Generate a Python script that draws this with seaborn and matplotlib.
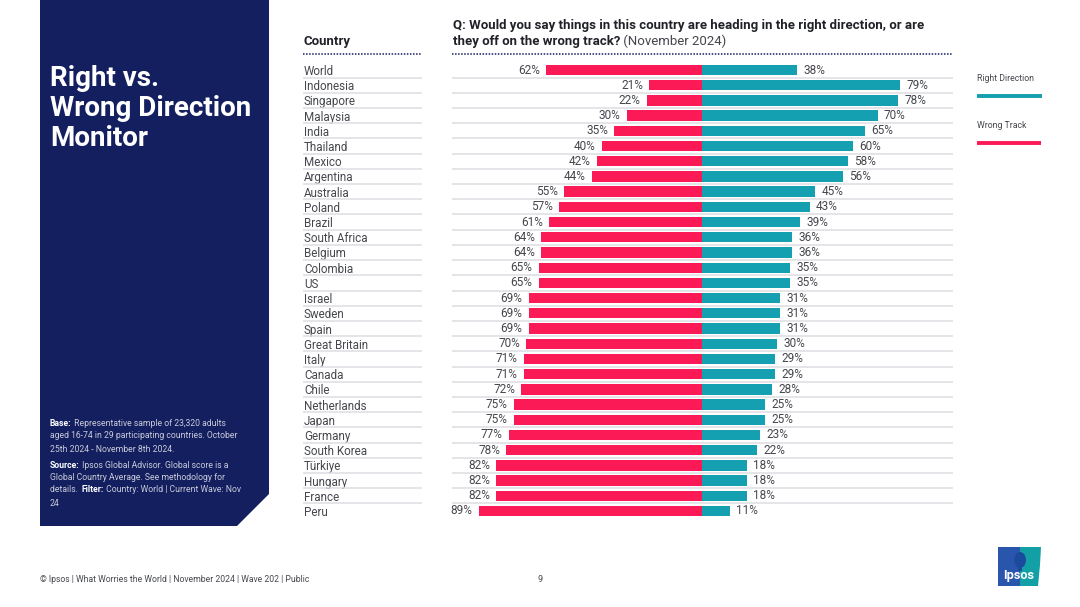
import matplotlib
matplotlib.use("Agg")
import matplotlib.pyplot as plt
import seaborn as sns
import pandas as pd
from matplotlib.patches import Polygon, Ellipse, Rectangle
from matplotlib.transforms import blended_transform_factory

countries = ["World","Indonesia","Singapore","Malaysia","India","Thailand","Mexico","Argentina","Australia","Poland",
             "Brazil","South Africa","Belgium","Colombia","US","Israel","Sweden","Spain","Great Britain","Italy",
             "Canada","Chile","Netherlands","Japan","Germany","South Korea","Türkiye","Hungary","France","Peru"]
wrong_track = [62,21,22,30,35,40,42,44,55,57,61,64,64,65,65,69,69,69,70,71,71,72,75,75,77,78,82,82,82,89]
right_direction = [38,79,78,70,65,60,58,56,45,43,39,36,36,35,35,31,31,31,30,29,29,28,25,25,23,22,18,18,18,11]

NAVY = "#141f60"; RED = "#fb1a55"; TEAL = "#14a0b0"; TXT = "#45474d"; SEP = "#dcdde3"
W, H = 1080, 607
sns.set_theme(style="white")
plt.rcParams["font.family"] = ["Roboto", "DejaVu Sans"]

fig = plt.figure(figsize=(W/100, H/100), dpi=100, facecolor="white")
bg = fig.add_axes([0, 0, 1, 1], zorder=0)
bg.set_xlim(0, W); bg.set_ylim(H, 0); bg.axis("off")

bg.add_patch(Polygon([(40,0),(269,0),(269,494),(237,526),(40,526)], closed=True, fc=NAVY, ec="none"))
for s, y in [("Right vs.", 79), ("Wrong Direction", 108), ("Monitor", 138)]:
    bg.text(50, y, s, color="white", fontsize=20, fontweight="bold", va="center", ha="left")

GREY = "#c9cbd8"
base = [(50,424,[("Base:",True),(" Representative sample of 23,320 adults",False)]),
        (50,436,[("aged 16-74 in 29 participating countries. October",False)]),
        (50,449,[("25th 2024 - November 8th 2024.",False)]),
        (50,465,[("Source:",True),(" Ipsos Global Advisor. Global score is a",False)]),
        (50,478,[("Global Country Average. See methodology for",False)]),
        (50,490,[("details. ",False),("Filter:",True),(" Country: World | Current Wave: Nov",False)]),
        (50,503,[("24",False)])]
r = fig.canvas.get_renderer()
def runs(x, y, parts, size, color, boldcolor=None):
    for s, b in parts:
        t = bg.text(x, y, s, fontsize=size, va="center", ha="left",
                    fontweight="bold" if b else "normal",
                    color=(boldcolor or color) if b else color)
        trail = len(s) - len(s.rstrip())
        x += t.get_window_extent(r).width + trail * size * 0.32
for x, y, parts in base:
    runs(x, y, parts, 6.2, GREY, "white")

bg.text(303, 41, "Country", fontsize=9.5, fontweight="bold", color="#202228", va="center", ha="left")
bg.text(453, 25, "Q: Would you say things in this country are heading in the right direction, or are",
        fontsize=9.55, fontweight="bold", color="#202228", va="center", ha="left")
runs(453, 41, [("they off on the wrong track?", True), (" (November 2024)", False)], 9.55, TXT, "#202228")

for a, b in [(303, 421), (452, 953)]:
    bg.plot([a, b], [53.5, 53.5], color=NAVY, lw=1.1, ls=(0, (1, 1)))

bg.text(977, 78.5, "Right Direction", fontsize=6.3, color=TXT, va="center", ha="left")
bg.plot([977, 1042], [96, 96], color=TEAL, lw=2.8, solid_capstyle="butt")
bg.text(977, 125, "Wrong Track", fontsize=6.3, color=TXT, va="center", ha="left")
bg.plot([977, 1041], [142.5, 142.5], color=RED, lw=2.8, solid_capstyle="butt")

bg.text(40, 580, "© Ipsos | What Worries the World | November 2024 | Wave 202 | Public",
        fontsize=6.2, color=TXT, va="center", ha="left")
bg.text(540, 580, "9", fontsize=6.5, color=TXT, va="center", ha="center")

# logo
bg.add_patch(Polygon([(998,547),(1020,547),(1020,586),(998,586)], fc="#2a55ad", ec="none"))
bg.add_patch(Polygon([(1020,547),(1041,547),(1040,565),(1038,586),(1020,586)], fc="#12a0a6", ec="none"))
bg.add_patch(Ellipse((1020, 560), 12, 16, fc="#1c4a9c", ec="none"))
bg.add_patch(Rectangle((1018, 565), 4, 6, fc="#1c4a9c", ec="none"))
bg.text(1018.5, 575.5, "Ipsos", color="white", fontsize=9.2, fontweight="bold", va="center", ha="center")

# chart
n = len(countries)
wrong_df = pd.DataFrame({"Country": countries, "Series": "Wrong Track", "Value": [-v for v in wrong_track]})
right_df = pd.DataFrame({"Country": countries, "Series": "Right Direction", "Value": right_direction})
data = pd.concat([wrong_df, right_df], ignore_index=True)

top, bottom = 62.4, 518.6
ax = fig.add_axes([452/W, 1-bottom/H, (953-452)/W, (bottom-top)/H], zorder=1)
ax.patch.set_alpha(0)
sns.barplot(data=data, y="Country", x="Value", hue="Series", order=countries,
            hue_order=["Wrong Track", "Right Direction"], palette=[RED, TEAL],
            dodge=False, width=0.68, orient="h", legend=False, ax=ax, saturation=1,
            linewidth=0, zorder=3)
ax.set_xlim(-99.6, 100)
ax.set_ylim(n-0.5, -0.5)
ax.set_xlabel(""); ax.set_ylabel("")
ax.set_xticks([])
for sp in ax.spines.values():
    sp.set_visible(False)

ax.set_yticks(range(n))
ax.set_yticklabels(countries, ha="left", fontsize=8.4, color=TXT)
ax.tick_params(axis="y", length=0, pad=(452-304)*0.72)

for c in ax.containers:
    ax.bar_label(c, fmt=lambda v: f"{abs(v):.0f}%", padding=4.5, fontsize=8.5, color=TXT)

seps = [i + 0.5 for i in range(n-1)]
ax.hlines(seps, -99.6, 100, color=SEP, lw=1.1, zorder=1)
tr = blended_transform_factory(bg.transData, ax.transData)
ax.hlines(seps, 303, 422, color=SEP, lw=1.1, transform=tr, clip_on=False, zorder=1)

fig.savefig("out.png", dpi=100, facecolor="white")
